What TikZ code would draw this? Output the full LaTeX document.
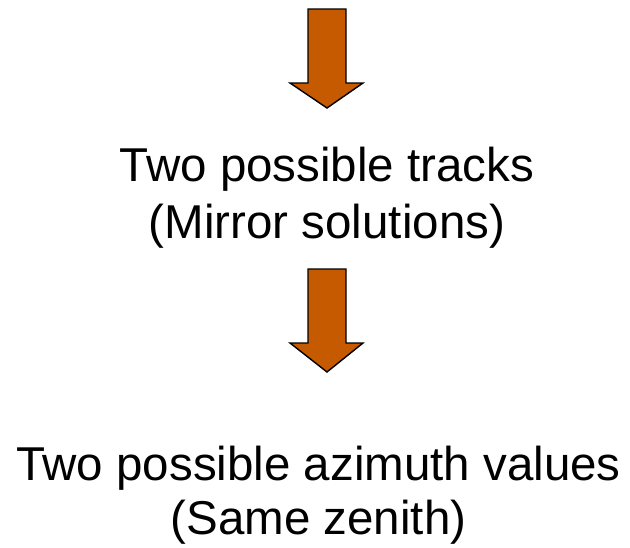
\documentclass[tikz,border=0pt]{standalone}
\usepackage{fontspec}
\setmainfont{Liberation Sans}
\definecolor{arrowfill}{RGB}{197,90,0}
\tikzset{
  label/.style={align=center, inner sep=0pt, font=\fontsize{47.5}{57}\selectfont},
  blockarrow/.style={fill=arrowfill, draw=black, line width=1.4pt, line join=miter}
}
\begin{document}
\begin{tikzpicture}[x=1pt, y=-1pt]
      \useasboundingbox (0, 0) rectangle (630, 547);

      \node[label] (tracks) at (327, 198) {Two possible tracks\\(Mirror solutions)};
      \node[label, font=\fontsize{47.5}{54}\selectfont] (azimuth) at (318.5, 495.5) {Two possible azimuth values\\(Same zenith)};

      \draw[blockarrow] (308, 9) -- (346, 9) -- (346, 83) -- (363, 83) -- (327, 108) -- (290, 83) -- (308, 83) -- cycle;
      \draw[blockarrow] (308, 269) -- (346, 269) -- (346, 343) -- (363, 343) -- (327, 372) -- (290, 343) -- (308, 343) -- cycle;
    \end{tikzpicture}
\end{document}
